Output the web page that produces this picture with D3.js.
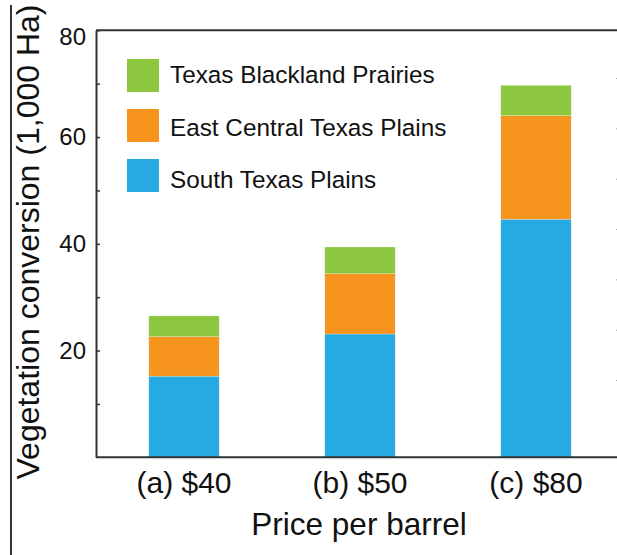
<!DOCTYPE html>
<html>
<head>
<meta charset="utf-8">
<script src="https://cdn.jsdelivr.net/npm/d3@7"></script>
<style>
    body { margin: 0; background: #ffffff; }
    svg { display: block; font-family: "Liberation Sans", Arial, sans-serif; }
</style>
</head>
<body>
<svg id="chart" width="617" height="555"></svg>
<script>
// Price scenarios on the x axis
var prices = ["(a) $40", "(b) $50", "(c) $80"];

// Vegetation conversion per ecoregion (1,000 Ha), stacked bottom to top
var southTexasPlains = [15.2, 23.1, 44.6];
var eastCentralTexasPlains = [7.4, 11.3, 19.4];
var texasBlacklandPrairies = [3.9, 5.0, 5.7];

var regions = ["South Texas Plains", "East Central Texas Plains", "Texas Blackland Prairies"];
var regionColors = ["#27aae1", "#f7941e", "#8dc63f"];

var yTicks = [20, 40, 60, 80];
var yMinorTicks = [10, 20, 30, 40, 50, 60, 70, 80];

var svg = d3.select("#chart");

var margin = {top: 30, left: 96, bottom: 98};
var chartBottom = 555 - margin.bottom + 0.3;

// Table for the stack layout
var table = prices.map(function(p, i) {
    return {
        price: p,
        "South Texas Plains": southTexasPlains[i],
        "East Central Texas Plains": eastCentralTexasPlains[i],
        "Texas Blackland Prairies": texasBlacklandPrairies[i]
    };
});

var xScale = d3.scaleBand()
    .domain(prices)
    .range([margin.left, 624])
    .paddingInner(0.6)
    .paddingOuter(0.3);

var yScale = d3.scaleLinear()
    .domain([0, 80])
    .range([chartBottom, 30.3]);

var color = d3.scaleOrdinal().domain(regions).range(regionColors);

var stacked = d3.stack().keys(regions)(table);

// Bars
svg.append("g")
    .selectAll("g")
    .data(stacked)
    .enter()
    .append("g")
        .attr("fill", function(s) { return color(s.key); })
    .selectAll("rect")
    .data(function(s) { return s; })
    .enter()
    .append("rect")
        .attr("x", function(d) { return xScale(d.data.price); })
        .attr("y", function(d) { return yScale(d[1]); })
        .attr("width", xScale.bandwidth())
        .attr("height", function(d) { return yScale(d[0]) - yScale(d[1]); })
        .attr("stroke", "#ffffff")
        .attr("stroke-opacity", 0.4)
        .attr("stroke-width", 0.6);

// Faint tick marks at the right edge
var rightScale = d3.scaleLinear().domain([0, 6]).range([380, 78]);
svg.append("g")
    .attr("transform", "translate(618, 0)")
    .call(d3.axisLeft(rightScale).tickValues(d3.range(7)).tickSize(2).tickFormat(""))
    .call(function(g) { g.select(".domain").remove(); })
    .selectAll("line")
        .attr("stroke", "#aaaaaa");

// Frame: top and bottom lines
svg.append("line")
    .attr("x1", margin.left).attr("x2", 617)
    .attr("y1", yScale(80)).attr("y2", yScale(80))
    .attr("stroke", "#333333").attr("stroke-width", 2);

svg.append("line")
    .attr("x1", margin.left).attr("x2", 617)
    .attr("y1", yScale(0)).attr("y2", yScale(0))
    .attr("stroke", "#333333").attr("stroke-width", 2);

// Y axis with inward ticks
var yAxis = svg.append("g")
    .attr("transform", `translate(${margin.left}, 0)`)
    .call(d3.axisLeft(yScale).tickValues(yMinorTicks).tickSizeInner(-4).tickSizeOuter(0).tickPadding(10)
        .tickFormat(function(d) { return yTicks.indexOf(d) >= 0 ? d : ""; }));

yAxis.select(".domain").attr("stroke", "#333333").attr("stroke-width", 2);
yAxis.selectAll(".tick line").attr("stroke", "#333333").attr("stroke-width", 1.5);
yAxis.selectAll(".tick text")
    .attr("font-size", 24)
    .attr("font-family", "Liberation Sans, Arial, sans-serif")
    .attr("fill", "#111111");

// the top label sits a little lower than its tick
yAxis.selectAll(".tick")
    .filter(function(d) { return d === 80; })
    .select("text")
    .attr("dy", "0.6em");

// X axis labels
var xAxis = svg.append("g")
    .attr("transform", `translate(0, ${yScale(0)})`)
    .call(d3.axisBottom(xScale).tickSize(0).tickPadding(14));

xAxis.select(".domain").remove();
xAxis.selectAll(".tick text")
    .attr("font-size", 30)
    .attr("font-family", "Liberation Sans, Arial, sans-serif")
    .attr("fill", "#111111");

// X label
svg.append("text")
    .attr("x", 359)
    .attr("y", 535)
    .attr("text-anchor", "middle")
    .attr("font-size", 31.5)
    .attr("fill", "#111111")
    .text("Price per barrel");

// Y label
svg.append("text")
    .attr("transform", "translate(39, 242) rotate(-90)")
    .attr("text-anchor", "middle")
    .attr("font-size", 32)
    .attr("fill", "#111111")
    .text("Vegetation conversion (1,000 Ha)");

// Left border line
svg.append("line")
    .attr("x1", 11).attr("x2", 11)
    .attr("y1", 5).attr("y2", 555)
    .attr("stroke", "#000000").attr("stroke-width", 1.6);

// Legend, top entry first
var legendOrder = regions.slice().reverse();
var legend = svg.append("g")
    .attr("transform", "translate(127, 59)");

legend.selectAll("rect")
    .data(legendOrder)
    .enter()
    .append("rect")
        .attr("y", function(d, i) { return i * 50; })
        .attr("width", 32)
        .attr("height", 33)
        .attr("fill", function(d) { return color(d); });

legend.selectAll("text")
    .data(legendOrder)
    .enter()
    .append("text")
        .attr("x", 43)
        .attr("y", function(d, i) { return 24 + i * 52.7; })
        .attr("font-size", 24.3)
        .attr("fill", "#111111")
        .text(function(d) { return d; });
</script>
</body>
</html>
